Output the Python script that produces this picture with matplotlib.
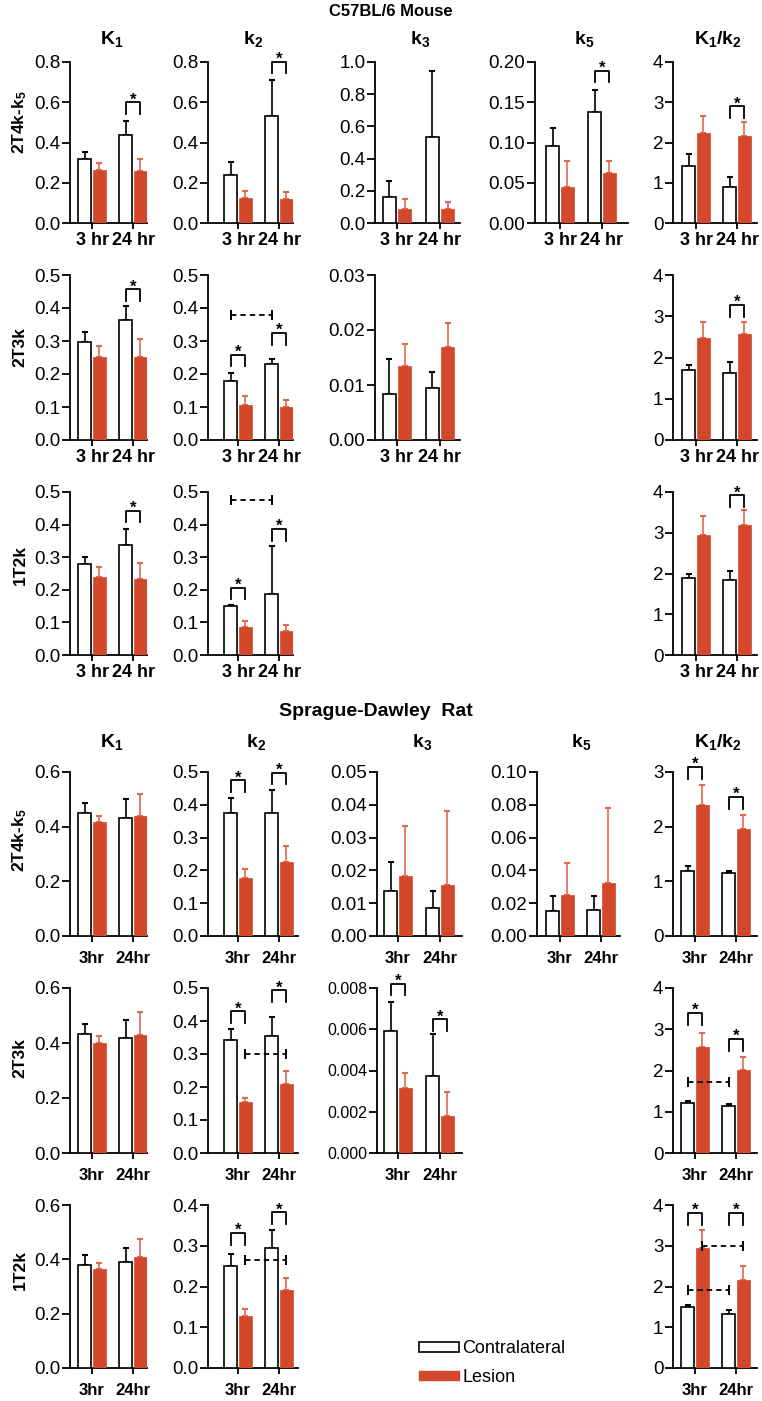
import matplotlib
matplotlib.use('Agg')
import numpy as np
import matplotlib.pyplot as plt
from matplotlib.patches import Patch

plt.rcParams['font.family'] = ['Liberation Sans', 'DejaVu Sans']
plt.rcParams['mathtext.fontset'] = 'custom'
plt.rcParams['mathtext.rm'] = 'Liberation Sans'
plt.rcParams['mathtext.bf'] = 'Liberation Sans:bold'
plt.rcParams['mathtext.it'] = 'Liberation Sans:italic'

RED = '#d3482b'
RED_ERR = '#e2694c'

times_mouse = ['3 hr', '24 hr']
times_rat = ['3hr', '24hr']

# ---- C57BL/6 mouse, values at [3 hr, 24 hr] ----
# 2T4k-k5
m4_K1_con, m4_K1_con_err = [0.32, 0.435], [0.035, 0.07]
m4_K1_les, m4_K1_les_err = [0.263, 0.258], [0.035, 0.06]
m4_k2_con, m4_k2_con_err = [0.24, 0.53], [0.065, 0.18]
m4_k2_les, m4_k2_les_err = [0.125, 0.12], [0.035, 0.035]
m4_k3_con, m4_k3_con_err = [0.16, 0.535], [0.10, 0.41]
m4_k3_les, m4_k3_les_err = [0.088, 0.087], [0.06, 0.045]
m4_k5_con, m4_k5_con_err = [0.096, 0.138], [0.022, 0.027]
m4_k5_les, m4_k5_les_err = [0.045, 0.062], [0.032, 0.015]
m4_ratio_con, m4_ratio_con_err = [1.42, 0.89], [0.29, 0.25]
m4_ratio_les, m4_ratio_les_err = [2.23, 2.16], [0.42, 0.35]
# 2T3k
m3_K1_con, m3_K1_con_err = [0.298, 0.365], [0.029, 0.04]
m3_K1_les, m3_K1_les_err = [0.252, 0.252], [0.033, 0.054]
m3_k2_con, m3_k2_con_err = [0.179, 0.23], [0.025, 0.015]
m3_k2_les, m3_k2_les_err = [0.106, 0.10], [0.027, 0.021]
m3_k3_con, m3_k3_con_err = [0.0083, 0.0094], [0.0065, 0.003]
m3_k3_les, m3_k3_les_err = [0.0134, 0.0169], [0.004, 0.0044]
m3_ratio_con, m3_ratio_con_err = [1.70, 1.62], [0.12, 0.27]
m3_ratio_les, m3_ratio_les_err = [2.47, 2.56], [0.38, 0.30]
# 1T2k
m2_K1_con, m2_K1_con_err = [0.28, 0.338], [0.02, 0.047]
m2_K1_les, m2_K1_les_err = [0.238, 0.233], [0.032, 0.048]
m2_k2_con, m2_k2_con_err = [0.15, 0.188], [0.003, 0.147]
m2_k2_les, m2_k2_les_err = [0.085, 0.075], [0.02, 0.018]
m2_ratio_con, m2_ratio_con_err = [1.89, 1.84], [0.09, 0.22]
m2_ratio_les, m2_ratio_les_err = [2.94, 3.18], [0.46, 0.37]

# ---- Sprague-Dawley rat ----
# 2T4k-k5
r4_K1_con, r4_K1_con_err = [0.449, 0.43], [0.036, 0.07]
r4_K1_les, r4_K1_les_err = [0.418, 0.439], [0.022, 0.08]
r4_k2_con, r4_k2_con_err = [0.376, 0.376], [0.046, 0.07]
r4_k2_les, r4_k2_les_err = [0.178, 0.226], [0.025, 0.048]
r4_k3_con, r4_k3_con_err = [0.0136, 0.0085], [0.0089, 0.0053]
r4_k3_les, r4_k3_les_err = [0.0182, 0.0154], [0.0153, 0.0228]
r4_k5_con, r4_k5_con_err = [0.015, 0.0158], [0.0096, 0.0088]
r4_k5_les, r4_k5_les_err = [0.025, 0.0324], [0.0197, 0.0455]
r4_ratio_con, r4_ratio_con_err = [1.195, 1.146], [0.09, 0.035]
r4_ratio_les, r4_ratio_les_err = [2.40, 1.96], [0.36, 0.25]
# 2T3k
r3_K1_con, r3_K1_con_err = [0.433, 0.42], [0.037, 0.065]
r3_K1_les, r3_K1_les_err = [0.40, 0.429], [0.024, 0.083]
r3_k2_con, r3_k2_con_err = [0.343, 0.355], [0.033, 0.056]
r3_k2_les, r3_k2_les_err = [0.154, 0.209], [0.012, 0.039]
r3_k3_con, r3_k3_con_err = [0.0059, 0.00374], [0.00143, 0.00203]
r3_k3_les, r3_k3_les_err = [0.00316, 0.00177], [0.00073, 0.00121]
r3_ratio_con, r3_ratio_con_err = [1.224, 1.15], [0.04, 0.03]
r3_ratio_les, r3_ratio_les_err = [2.58, 2.01], [0.34, 0.32]
# 1T2k
r2_K1_con, r2_K1_con_err = [0.38, 0.39], [0.035, 0.05]
r2_K1_les, r2_K1_les_err = [0.365, 0.41], [0.02, 0.065]
r2_k2_con, r2_k2_con_err = [0.251, 0.295], [0.029, 0.044]
r2_k2_les, r2_k2_les_err = [0.128, 0.192], [0.017, 0.028]
r2_ratio_con, r2_ratio_con_err = [1.49, 1.33], [0.06, 0.10]
r2_ratio_les, r2_ratio_les_err = [2.94, 2.16], [0.45, 0.35]

# significance brackets (group, height) and dashed comparisons (series, height)
m4_K1_sig, m4_k2_sig, m4_k5_sig, m4_ratio_sig = [(1, 0.60)], [(1, 0.80)], [(1, 0.189)], [(1, 2.9)]
m3_K1_sig, m3_k2_sig, m3_ratio_sig = [(1, 0.457)], [(0, 0.258), (1, 0.324)], [(1, 3.27)]
m3_k2_dash = [('con', 0.379)]
m2_K1_sig, m2_k2_sig, m2_ratio_sig = [(1, 0.442)], [(0, 0.207), (1, 0.386)], [(1, 3.92)]
m2_k2_dash = [('con', 0.474)]
r4_k2_sig, r4_ratio_sig = [(0, 0.475), (1, 0.497)], [(0, 3.09), (1, 2.54)]
r3_k2_sig, r3_k3_sig, r3_ratio_sig = [(0, 0.429), (1, 0.493)], [(0, 0.0082), (1, 0.00648)], [(0, 3.39), (1, 2.76)]
r3_k2_dash, r3_ratio_dash = [('les', 0.299)], [('con', 1.71)]
r2_k2_sig, r2_ratio_sig = [(0, 0.331), (1, 0.382)], [(0, 3.8), (1, 3.8)]
r2_k2_dash, r2_ratio_dash = [('les', 0.264)], [('les', 3.0), ('con', 1.92)]

# ---- layout (pixels) ----
W, H = 762, 1401
# column: spine x, 3hr tick x, 24hr tick x, right end x
mcols = {'K1': (70, 92, 133, 147), 'k2': (208, 238, 279, 293), 'k3': (375, 397, 440, 460),
         'k5': (535, 560, 602, 628), 'ratio': (673, 696, 737, 757)}
rcols = {'K1': (70, 92, 133, 147), 'k2': (208, 238, 279, 298), 'k3': (377, 398, 440, 462),
         'k5': (537, 560, 601, 620), 'ratio': (673, 695, 736, 757)}
mrows = [(62, 223), (275, 440), (492, 655)]
rrows = [(772, 936), (988, 1153), (1205, 1368)]

OFF, BW = 0.175, 0.31

fig = plt.figure(figsize=(7.62, 14.01), dpi=100)


def panel(row, col, con, con_err, les, les_err, yticks, fmt, times, xpad,
          sig=(), dash=(), tsize=13.5):
    spine, t3, t24, right = col
    top, bot = row
    ax = fig.add_axes([spine / W, 1 - bot / H, (right - spine) / W, (bot - top) / H])
    d = t24 - t3
    ax.set_xlim((spine - t3) / d, (right - t3) / d)
    ax.set_ylim(0, yticks[-1])
    x = np.arange(2)
    ax.bar(x - OFF, con, BW, color='white', edgecolor='black', linewidth=1.2, zorder=3)
    ax.bar(x + OFF, les, BW, color=RED, edgecolor=RED, linewidth=0.5, zorder=3)
    ax.errorbar(x - OFF, con, yerr=[[0, 0], con_err], fmt='none', ecolor='black',
                elinewidth=1.2, capsize=2.5, capthick=1.5, zorder=2, clip_on=False)
    ax.errorbar(x + OFF, les, yerr=[[0, 0], les_err], fmt='none', ecolor=RED_ERR,
                elinewidth=1.2, capsize=2.5, capthick=1.5, zorder=2, clip_on=False)
    ymax = yticks[-1]
    for g, yb in sig:
        drop = 0.07 * ymax
        ax.plot([g - OFF, g - OFF, g + OFF, g + OFF], [yb - drop, yb, yb, yb - drop],
                color='black', lw=1.3, clip_on=False, zorder=4)
        ax.annotate('*', (g, yb), xytext=(0, -1.5), textcoords='offset points',
                    ha='center', va='baseline', fontsize=12, fontweight='bold',
                    annotation_clip=False)
    for series, yd in dash:
        s = -OFF if series == 'con' else OFF
        ax.plot([s, 1 + s], [yd, yd], color='black', lw=1.3, dashes=(3, 2.2), zorder=4)
        ax.plot([s, 1 + s], [yd, yd], ls='none', marker='|', ms=7, mew=1.4,
                color='black', zorder=4)
    ax.set_yticks(yticks)
    ax.set_yticklabels([fmt.format(v) for v in yticks])
    ax.set_xticks(x)
    ax.set_xticklabels(times, fontweight='bold', fontsize=13 if times == times_mouse else 12)
    for s in ('top', 'right'):
        ax.spines[s].set_visible(False)
    for s in ('left', 'bottom'):
        ax.spines[s].set_linewidth(1.3)
    ax.tick_params(axis='y', length=5.5, width=1.3, pad=1.5, labelsize=tsize)
    ax.tick_params(axis='x', length=4.5, width=1.3, pad=xpad)
    return ax


t08 = [0, 0.2, 0.4, 0.6, 0.8]
t10 = [0, 0.2, 0.4, 0.6, 0.8, 1.0]
t05 = [0, 0.1, 0.2, 0.3, 0.4, 0.5]
t04 = [0, 0.1, 0.2, 0.3, 0.4]
t06 = [0, 0.2, 0.4, 0.6]
t4 = [0, 1, 2, 3, 4]
t3 = [0, 1, 2, 3]

# mouse
mp = dict(times=times_mouse, xpad=2)
panel(mrows[0], mcols['K1'], m4_K1_con, m4_K1_con_err, m4_K1_les, m4_K1_les_err, t08, '{:.1f}', sig=m4_K1_sig, **mp)
panel(mrows[0], mcols['k2'], m4_k2_con, m4_k2_con_err, m4_k2_les, m4_k2_les_err, t08, '{:.1f}', sig=m4_k2_sig, **mp)
panel(mrows[0], mcols['k3'], m4_k3_con, m4_k3_con_err, m4_k3_les, m4_k3_les_err, t10, '{:.1f}', **mp)
panel(mrows[0], mcols['k5'], m4_k5_con, m4_k5_con_err, m4_k5_les, m4_k5_les_err,
      [0, 0.05, 0.10, 0.15, 0.20], '{:.2f}', sig=m4_k5_sig, **mp)
panel(mrows[0], mcols['ratio'], m4_ratio_con, m4_ratio_con_err, m4_ratio_les, m4_ratio_les_err, t4, '{:.0f}', sig=m4_ratio_sig, **mp)

panel(mrows[1], mcols['K1'], m3_K1_con, m3_K1_con_err, m3_K1_les, m3_K1_les_err, t05, '{:.1f}', sig=m3_K1_sig, **mp)
panel(mrows[1], mcols['k2'], m3_k2_con, m3_k2_con_err, m3_k2_les, m3_k2_les_err, t05, '{:.1f}', sig=m3_k2_sig, dash=m3_k2_dash, **mp)
panel(mrows[1], mcols['k3'], m3_k3_con, m3_k3_con_err, m3_k3_les, m3_k3_les_err, [0, 0.01, 0.02, 0.03], '{:.2f}', **mp)
panel(mrows[1], mcols['ratio'], m3_ratio_con, m3_ratio_con_err, m3_ratio_les, m3_ratio_les_err, t4, '{:.0f}', sig=m3_ratio_sig, **mp)

panel(mrows[2], mcols['K1'], m2_K1_con, m2_K1_con_err, m2_K1_les, m2_K1_les_err, t05, '{:.1f}', sig=m2_K1_sig, **mp)
panel(mrows[2], mcols['k2'], m2_k2_con, m2_k2_con_err, m2_k2_les, m2_k2_les_err, t05, '{:.1f}', sig=m2_k2_sig, dash=m2_k2_dash, **mp)
panel(mrows[2], mcols['ratio'], m2_ratio_con, m2_ratio_con_err, m2_ratio_les, m2_ratio_les_err, t4, '{:.0f}', sig=m2_ratio_sig, **mp)

# rat
rp = dict(times=times_rat, xpad=6)
panel(rrows[0], rcols['K1'], r4_K1_con, r4_K1_con_err, r4_K1_les, r4_K1_les_err, t06, '{:.1f}', **rp)
panel(rrows[0], rcols['k2'], r4_k2_con, r4_k2_con_err, r4_k2_les, r4_k2_les_err, t05, '{:.1f}', sig=r4_k2_sig, **rp)
panel(rrows[0], rcols['k3'], r4_k3_con, r4_k3_con_err, r4_k3_les, r4_k3_les_err,
      [0, 0.01, 0.02, 0.03, 0.04, 0.05], '{:.2f}', **rp)
panel(rrows[0], rcols['k5'], r4_k5_con, r4_k5_con_err, r4_k5_les, r4_k5_les_err,
      [0, 0.02, 0.04, 0.06, 0.08, 0.10], '{:.2f}', **rp)
panel(rrows[0], rcols['ratio'], r4_ratio_con, r4_ratio_con_err, r4_ratio_les, r4_ratio_les_err, t3, '{:.0f}', sig=r4_ratio_sig, **rp)

panel(rrows[1], rcols['K1'], r3_K1_con, r3_K1_con_err, r3_K1_les, r3_K1_les_err, t06, '{:.1f}', **rp)
panel(rrows[1], rcols['k2'], r3_k2_con, r3_k2_con_err, r3_k2_les, r3_k2_les_err, t05, '{:.1f}', sig=r3_k2_sig, dash=r3_k2_dash, **rp)
panel(rrows[1], rcols['k3'], r3_k3_con, r3_k3_con_err, r3_k3_les, r3_k3_les_err,
      [0, 0.002, 0.004, 0.006, 0.008], '{:.3f}', sig=r3_k3_sig, tsize=11.5, **rp)
panel(rrows[1], rcols['ratio'], r3_ratio_con, r3_ratio_con_err, r3_ratio_les, r3_ratio_les_err, t4, '{:.0f}', sig=r3_ratio_sig, dash=r3_ratio_dash, **rp)

panel(rrows[2], rcols['K1'], r2_K1_con, r2_K1_con_err, r2_K1_les, r2_K1_les_err, t06, '{:.1f}', **rp)
panel(rrows[2], rcols['k2'], r2_k2_con, r2_k2_con_err, r2_k2_les, r2_k2_les_err, t04, '{:.1f}', sig=r2_k2_sig, dash=r2_k2_dash, **rp)
panel(rrows[2], rcols['ratio'], r2_ratio_con, r2_ratio_con_err, r2_ratio_les, r2_ratio_les_err, t4, '{:.0f}', sig=r2_ratio_sig, dash=r2_ratio_dash, **rp)

# titles
def ftext(px, py, s, **kw):
    fig.text(px / W, 1 - py / H, s, ha='center', va='center', fontweight='bold', **kw)

ftext(391, 11, 'C57BL/6 Mouse', fontsize=12)
ftext(376, 712, 'Sprague-Dawley  Rat', fontsize=14)
col_titles = [('K1', r'$\mathbf{K_1}$'), ('k2', r'$\mathbf{k_2}$'), ('k3', r'$\mathbf{k_3}$'),
              ('k5', r'$\mathbf{k_5}$'), ('ratio', r'$\mathbf{K_1/k_2}$')]
for key, lab in col_titles:
    c = mcols[key]
    ftext((c[0] + c[3]) / 2 + 3, 39, lab, fontsize=14)
    c = rcols[key]
    ftext((c[0] + c[3]) / 2 + 3, 742, lab, fontsize=14)

row_labels = ['2T4k-' + r'$\mathbf{k_5}$', '2T3k', '1T2k']
for lab, ym, yr in zip(row_labels, [122, 347, 565], [840, 1058, 1270]):
    ftext(20, ym, lab, fontsize=12.5, rotation=90)
    ftext(20, yr, lab, fontsize=12.5, rotation=90)

handles = [Patch(facecolor='white', edgecolor='black', linewidth=1.2), Patch(facecolor=RED, edgecolor=RED)]
fig.legend(handles, ['Contralateral', 'Lesion'], loc='center left',
           bbox_to_anchor=(419 / W, 1 - 1363 / H), frameon=False, fontsize=13,
           handlelength=2.2, handleheight=0.45, handletextpad=0.2, labelspacing=0.65,
           borderpad=0, borderaxespad=0)

fig.savefig('out.png', dpi=100)
